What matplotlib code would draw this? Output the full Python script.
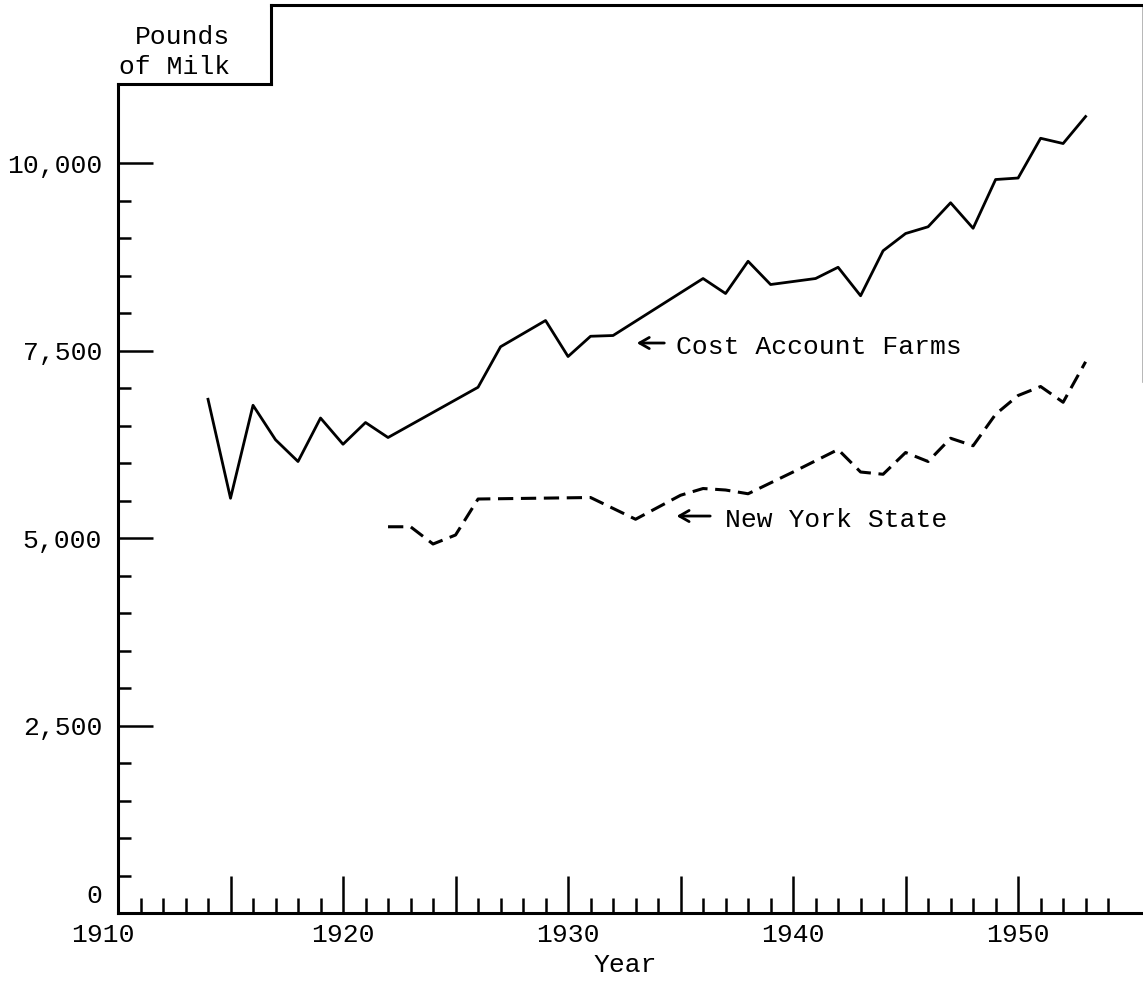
import matplotlib
matplotlib.use("Agg")
import matplotlib.pyplot as plt
from matplotlib.ticker import FixedLocator, FixedFormatter

plt.rcParams["font.family"] = ["Liberation Mono", "DejaVu Sans Mono"]

# Pounds of milk per cow - Cost Account Farms (solid line)
cost_years = [1914, 1915, 1916, 1917, 1918, 1919, 1920, 1921, 1922, 1926, 1927,
              1929, 1930, 1931, 1932, 1936, 1937, 1938, 1939, 1941, 1942, 1943,
              1944, 1945, 1946, 1947, 1948, 1949, 1950, 1951, 1952, 1953]
cost_milk = [6850, 5530, 6770, 6310, 6020, 6600, 6250, 6540, 6340, 7010, 7550,
             7900, 7420, 7690, 7700, 8460, 8260, 8690, 8380, 8460, 8610, 8230,
             8830, 9060, 9150, 9470, 9130, 9780, 9800, 10330, 10260, 10620]

# New York State (dashed line)
ny_years = [1922, 1923, 1924, 1925, 1926, 1931, 1933, 1935, 1936, 1937, 1938,
            1940, 1942, 1943, 1944, 1945, 1946, 1947, 1948, 1949, 1950, 1951,
            1952, 1953]
ny_milk = [5150, 5150, 4920, 5040, 5520, 5540, 5250, 5570, 5660, 5640, 5590,
           5880, 6180, 5880, 5850, 6140, 6020, 6330, 6230, 6650, 6900, 7020,
           6810, 7350]

x_ticks = [1910, 1915, 1920, 1925, 1930, 1935, 1940, 1945, 1950]
x_labels = ["1910", "", "1920", "", "1930", "", "1940", "", "1950"]
y_ticks = [0, 2500, 5000, 7500, 10000]
y_labels = ["0", "2,500", "5,000", "7,500", "10,000"]

fig = plt.figure(figsize=(11.43, 9.82), dpi=100)
ax = fig.add_axes([118 / 1143, 69 / 982, 1025 / 1143, 908 / 982])

x_max = 1955.55
y_max = 12107
ax.set_xlim(1910, x_max)
ax.set_ylim(0, y_max)

ax.plot(cost_years, cost_milk, color="black", lw=2.0)
ax.plot(ny_years, ny_milk, color="black", lw=2.2, dashes=(5, 2.5))

# ticks; the corner labels (1910 and 0) are placed by hand below
ax.xaxis.set_major_locator(FixedLocator(x_ticks))
ax.xaxis.set_major_formatter(FixedFormatter([""] + x_labels[1:]))
ax.xaxis.set_minor_locator(FixedLocator([y for y in range(1911, 1955) if y % 5]))
ax.yaxis.set_major_locator(FixedLocator(y_ticks))
ax.yaxis.set_major_formatter(FixedFormatter([""] + y_labels[1:]))
ax.yaxis.set_minor_locator(FixedLocator([v for v in range(500, 10000, 500) if v % 2500]))

ax.tick_params(axis="y", which="major", direction="in", length=25, width=1.8, pad=11.5, labelsize=19)
ax.tick_params(axis="y", which="minor", direction="in", length=9, width=1.8)
ax.tick_params(axis="x", which="major", direction="in", length=27, width=1.8, pad=7, labelsize=19)
ax.tick_params(axis="x", which="minor", direction="in", length=11, width=1.8)

ax.annotate(y_labels[0], xy=(x_ticks[0], y_ticks[0]), xytext=(-11.5, 12),
            textcoords="offset points", ha="right", va="center", fontsize=19,
            annotation_clip=False)
ax.annotate(x_labels[0], xy=(x_ticks[0], y_ticks[0]), xytext=(-11, -7),
            textcoords="offset points", ha="center", va="top", fontsize=19,
            annotation_clip=False)

# frame with the notch for the unit label
box_x = 1916.8
box_y = 11053
for side in ["left", "bottom", "top"]:
    ax.spines[side].set_linewidth(2.2)
ax.spines["left"].set_bounds(0, box_y)
ax.spines["top"].set_bounds(box_x, x_max)
ax.spines["right"].set_bounds(7080, y_max)
ax.spines["right"].set_color("#aaaaaa")
ax.spines["right"].set_linewidth(1.2)
ax.plot([1910, box_x], [box_y, box_y], color="black", lw=2.2, clip_on=False)
ax.plot([box_x, box_x], [box_y, y_max], color="black", lw=2.2, clip_on=False)

ax.text(1914.98, 11480, "Pounds\nof Milk", ha="right", va="center",
        multialignment="right", fontsize=19, linespacing=1.35)

# labels with arrows
arrow = dict(arrowstyle="->,head_length=0.7,head_width=0.4", lw=2, color="black")
ax.annotate("", xy=(1932.93, 7600), xytext=(1934.4, 7600), arrowprops=arrow)
ax.text(1934.8, 7547, "Cost Account Farms", ha="left", va="center", fontsize=19)
ax.annotate("", xy=(1934.7, 5293), xytext=(1936.44, 5293), arrowprops=arrow)
ax.text(1936.98, 5240, "New York State", ha="left", va="center", fontsize=19)

fig.text(625 / 1143, 1 - 965 / 982, "Year", ha="center", va="center", fontsize=19)

fig.savefig("out.png", dpi=100)
